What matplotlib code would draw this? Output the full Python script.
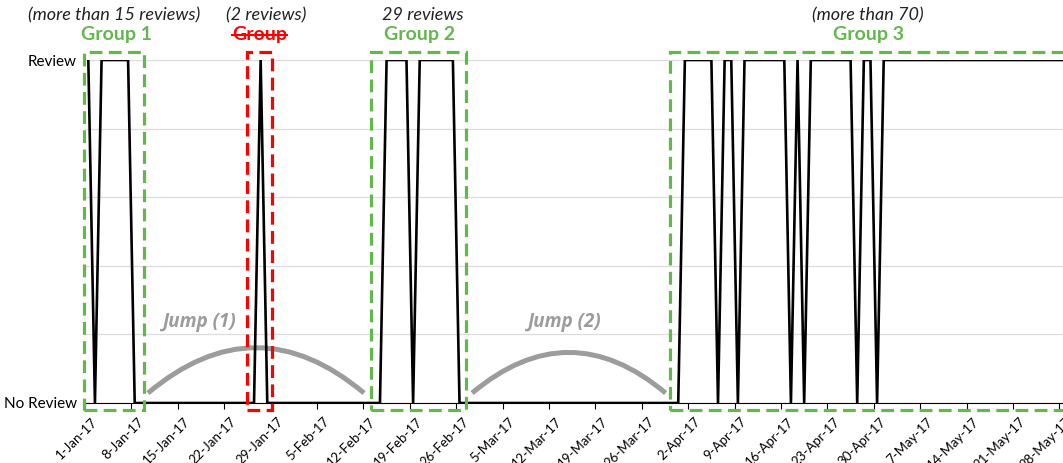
#!/usr/bin/env python3
"""
Review / No Review timeline (daily, Jan-May 2017) with group boxes and jump arcs.
"""
import numpy as np
import pandas as pd
import matplotlib
matplotlib.use("Agg")
import matplotlib.pyplot as plt
import matplotlib.transforms as mtrans
from matplotlib.patches import Rectangle, FancyArrowPatch
from matplotlib.lines import Line2D

plt.rcParams["font.family"] = ["Lato", "DejaVu Sans"]

# ---- data: days with a review (inclusive spans), everything else = no review
first_day = "2017-01-01"
last_day = "2017-05-28"
review_start = ["2017-01-01", "2017-01-03", "2017-01-27", "2017-02-15", "2017-02-20",
                "2017-04-01", "2017-04-07", "2017-04-10", "2017-04-18", "2017-04-20",
                "2017-04-28", "2017-05-01"]
review_end = ["2017-01-01", "2017-01-07", "2017-01-27", "2017-02-18", "2017-02-25",
              "2017-04-05", "2017-04-08", "2017-04-16", "2017-04-18", "2017-04-26",
              "2017-04-29", "2017-05-28"]

# group / jump annotation texts
group_labels = ["Group 1", "Group", "Group 2", "Group 3"]
group_notes = ["(more than 15 reviews)", "(2 reviews)", "29 reviews", "(more than 70)"]
jump_labels = ["Jump (1)", "Jump (2)"]

GREEN = "#62B84C"
RED = "#FF0000"
GRAY = "#9C9C9C"

days = pd.date_range(first_day, last_day, freq="D")
reviewed = pd.Series(0, index=days)
for s, e in zip(review_start, review_end):
    reviewed[s:e] = 1
xday = (days - days[0]).days.to_numpy() + 0.5     # points centred in their day

fig = plt.figure(figsize=(10.63, 4.63), dpi=100)
ax = fig.add_axes([85 / 1063, 60 / 463, 981 / 1063, 343 / 463])

ax.plot(xday, reviewed.values, color="black", lw=1.9, zorder=3)

# y axis: two named levels, light grid every 0.2
ax.set_ylim(0, 1)
ax.set_yticks(np.arange(0, 1.01, 0.2))
ax.set_yticklabels(["No Review", "", "", "", "", "Review"], fontsize=11)
ax.tick_params(axis="y", length=0, pad=6)
ax.grid(axis="y", color="#DCDCDC", lw=0.9)
ax.set_axisbelow(True)

# x axis: weekly ticks at day boundaries
ax.set_xlim(0, 148)
weeks = pd.date_range(first_day, last_day, freq="7D")
ax.set_xticks((weeks - days[0]).days.to_numpy())
ax.set_xticklabels([f"{d.day}-{d.strftime('%b-%y')}" for d in weeks],
                   rotation=45, ha="right", rotation_mode="anchor", fontsize=9.5)
ax.tick_params(axis="x", length=4, width=0.8, color="black", pad=5)
# nudge the rotated labels a little to the right, like the Excel original
shift = mtrans.ScaledTranslation(0.06, 0, fig.dpi_scale_trans)
for lab in ax.get_xticklabels():
    lab.set_transform(lab.get_transform() + shift)
for side in ("left", "right", "top"):
    ax.spines[side].set_visible(False)
ax.spines["bottom"].set_color("black")
ax.spines["bottom"].set_linewidth(0.8)

# dashed group boxes
box_x = [(-0.15, 8.9), (24.4, 28.2), (43.1, 57.5), (88.2, 150)]
box_col = [GREEN, RED, GREEN, GREEN]
ytop, ybot = 1.023, -0.02
for (x0, x1), c in zip(box_x, box_col):
    ax.add_patch(Rectangle((x0, ybot), x1 - x0, ytop - ybot, fill=False,
                           edgecolor=c, lw=2.3, ls=(0, (4, 2)), clip_on=False, zorder=4))

label_x = [4.8, 26.3, 50.5, 118.2]
note_x = [4.4, 27.3, 51.0, 118.1]
texts = []
for lab, note, lx, nx, c in zip(group_labels, group_notes, label_x, note_x, box_col):
    t = ax.text(lx, 1.073, lab, color=c, fontsize=14, fontweight="bold",
                ha="center", va="center", clip_on=False)
    texts.append(t)
    ax.text(nx, 1.131, note, color="#222222", fontsize=13, style="italic",
            ha="center", va="center", clip_on=False)

# jump arcs
jump_ends = [(9.5, 42.1), (58.4, 87.6)]
jump_text_x = [17.3, 72.4]
for (a, b), tx, lab in zip(jump_ends, jump_text_x, jump_labels):
    arc = FancyArrowPatch((a, 0.029), (b, 0.029), arrowstyle="-",
                          connectionstyle="arc3,rad=-0.42", color=GRAY, lw=3.6,
                          shrinkA=0, shrinkB=0, capstyle="butt", zorder=2)
    ax.add_patch(arc)
    ax.text(tx, 0.235, lab, color=GRAY, fontsize=13.5, fontweight="bold",
            style="italic", family=["Open Sans", "DejaVu Sans"],
            ha="center", va="center")

# strike through the red "Group"
fig.canvas.draw()
bb = texts[1].get_window_extent().transformed(fig.transFigure.inverted())
ymid = bb.y0 + bb.height * 0.47
fig.add_artist(Line2D([bb.x0, bb.x1], [ymid, ymid], color=RED, lw=1.5))

fig.savefig("out.png", dpi=100, facecolor="white")
plt.close(fig)
